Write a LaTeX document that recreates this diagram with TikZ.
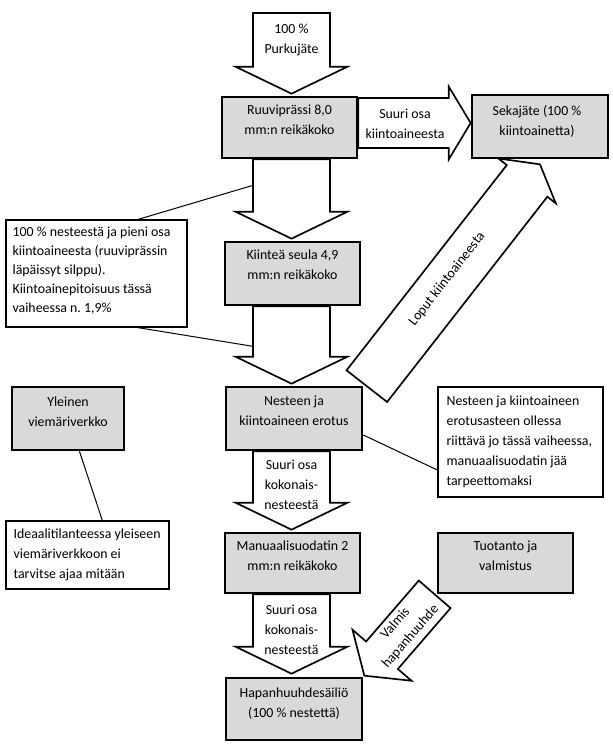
\documentclass[tikz,border=0pt]{standalone}
\usepackage{fontspec}
\setmainfont{Carlito}
\usetikzlibrary{calc,backgrounds}
\definecolor{boxgray}{RGB}{217,217,217}
\frenchspacing
\newcommand{\px}[1]{#1*0.75pt}
% #1 base, #2 tip, #3 shaft half width, #4 head half width, #5 head length
\newcommand{\flowarrow}[5]{%
  \coordinate (hb) at ($(#2)!#5!(#1)$);
  \draw[flow] ($(#1)!#3!90:(#2)$) -- ($(hb)!#3!90:(#2)$) -- ($(hb)!#4!90:(#2)$) -- (#2)
    -- ($(hb)!#4!-90:(#2)$) -- ($(hb)!#3!-90:(#2)$) -- ($(#1)!#3!-90:(#2)$) -- cycle;}
\begin{document}
\begin{tikzpicture}[x=0.75pt,y=-0.75pt,
  box/.style={draw, line width=2pt, fill=boxgray, inner sep=0pt},
  note/.style={draw, line width=1pt, fill=white, inner sep=0pt},
  lbl/.style={inner sep=0pt, align=center, font=\fontsize{10.4}{15}\selectfont},
  ltxt/.style={inner sep=0pt, align=left, anchor=north west, font=\fontsize{10.4}{15}\selectfont},
  flow/.style={draw, line width=1.25pt, fill=white, line join=miter},
  lead/.style={line width=0.75pt}]
\useasboundingbox (0,0) rectangle (612,747);
% main boxes
\node[box, minimum width=\px{135}, minimum height=\px{61}] (ruuvi) at (289.5,127.5) {};
\node[box, minimum width=\px{135}, minimum height=\px{63}] (kiintea) at (292.5,273.5) {};
\node[box, minimum width=\px{136}, minimum height=\px{63}] (nesteen) at (294,418.5) {};
\node[box, minimum width=\px{135}, minimum height=\px{60}] (manuaali) at (292.5,563) {};
\node[box, minimum width=\px{136}, minimum height=\px{62}] (hapan) at (294,709) {};
\node[box, minimum width=\px{136}, minimum height=\px{63}] (seka) at (540,126.5) {};
\node[box, minimum width=\px{135}, minimum height=\px{60}] (tuotanto) at (505.5,563) {};
\node[box, minimum width=\px{112}, minimum height=\px{63}] (yleinen) at (68,418.5) {};
% notes
\node[note, minimum width=\px{181}, minimum height=\px{107}] (n1) at (96.5,273.5) {};
\node[note, minimum width=\px{165}, minimum height=\px{110}] (n2) at (520.5,442) {};
\node[note, minimum width=\px{163}, minimum height=\px{68}] (n3) at (87.5,555) {};
% box texts
\node[lbl, anchor=north] (ruuvi-t) at ($(ruuvi.north)+(0,4.5)$) {\strut Ruuviprässi 8,0\\mm:n reikäkoko};
\node[lbl, anchor=north] (kiintea-t) at ($(kiintea.north)+(0,5)$) {\strut Kiinteä seula 4,9\\mm:n reikäkoko};
\node[lbl, anchor=north] (nesteen-t) at ($(nesteen.north)+(0,6)$) {\strut Nesteen ja\\kiintoaineen erotus};
\node[lbl, anchor=north] (manuaali-t) at ($(manuaali.north)+(0,5)$) {\strut Manuaalisuodatin 2\\mm:n reikäkoko};
\node[lbl, anchor=north] (hapan-t) at ($(hapan.north)+(0,6.5)$) {\strut Hapanhuuhdesäiliö\\(100 \% nestettä)};
\node[lbl, anchor=north] (seka-t) at ($(seka.north)+(-3,8)$) {\strut Sekajäte (100 \%\\kiintoainetta)};
\node[lbl, anchor=north] (tuotanto-t) at ($(tuotanto.north)+(0,5)$) {\strut Tuotanto ja\\valmistus};
\node[lbl, anchor=north] (yleinen-t) at ($(yleinen.north)+(0,6.5)$) {\strut Yleinen\\viemäriverkko};
% note texts
\node[ltxt, font=\fontsize{10.4}{14.25}\selectfont] (n1-t) at ($(n1.north west)+(7,4)$) {\strut 100 \% nesteestä ja pieni osa\\kiintoaineesta (ruuviprässin\\läpäissyt silppu).\\Kiintoainepitoisuus tässä\\vaiheessa n. 1,9\%};
\node[ltxt] (n2-t) at ($(n2.north west)+(9,4.5)$) {\strut Nesteen ja kiintoaineen\\erotusasteen ollessa\\riittävä jo tässä vaiheessa,\\manuaalisuodatin jää\\tarpeettomaksi};
\node[ltxt] (n3-t) at ($(n3.north west)+(8,3.5)$) {\strut Ideaalitilanteessa yleiseen\\viemäriverkkoon ei\\tarvitse ajaa mitään};
% arrows
\coordinate (axis) at (291.5,0);
\coordinate (src) at (291.5,13);
\coordinate (t1) at ($(ruuvi.north -| axis)+(0,-2)$);
\coordinate (b2) at (ruuvi.south -| axis);
\coordinate (t2) at ($(kiintea.north -| axis)+(0,-2)$);
\coordinate (b3) at (kiintea.south -| axis);
\coordinate (t3) at ($(nesteen.north -| axis)+(0,-2)$);
\coordinate (b4) at (nesteen.south -| axis);
\coordinate (t4) at ($(manuaali.north -| axis)+(0,-2)$);
\coordinate (b5) at (manuaali.south -| axis);
\coordinate (t5) at ($(hapan.north -| axis)+(0,-3)$);
\coordinate (b6) at ($(ruuvi.east)+(0,-4.5)$);
\coordinate (t6) at ($(seka.west)+(0,-3.5)$);
\coordinate (b7) at ($(nesteen.north east)+(3.5,0.5)$);
\coordinate (t7) at ($(seka.south)+(0,5)$);
\coordinate (b8) at ($(tuotanto.south west)+(-2,0)$);
\coordinate (t8) at ($(hapan.north east)+(1,-1)$);
\begin{scope}[on background layer]
\flowarrow{src}{t1}{28.875pt}{42pt}{20.25pt}
\flowarrow{b2}{t2}{28.875pt}{42pt}{20.25pt}
\flowarrow{b3}{t3}{28.875pt}{42pt}{20.25pt}
\flowarrow{b4}{t4}{28.875pt}{42pt}{20.25pt}
\flowarrow{b5}{t5}{28.875pt}{42pt}{20.25pt}
\flowarrow{b6}{t6}{18.75pt}{27.4pt}{16.5pt}
\flowarrow{b7}{t7}{19.3pt}{27.3pt}{15.75pt}
\flowarrow{b8}{t8}{15.75pt}{29.25pt}{20.25pt}
\end{scope}
% arrow texts
\node[lbl, anchor=north] (a1-t) at ($(src)+(0,6)$) {\strut 100 \%\\Purkujäte};
\node[lbl, anchor=north] (a6-t) at (405,104) {\strut Suuri osa\\kiintoaineesta};
\node[lbl, anchor=north] (a4-t) at ($(b4)+(0,4)$) {\strut Suuri osa\\kokonais-\\nesteestä};
\node[lbl, anchor=north] (a5-t) at ($(b5)+(0,6)$) {\strut Suuri osa\\kokonais-\\nesteestä};
\node[lbl, rotate=52] (a7-t) at (447,279) {Loput kiintoaineesta};
\node[lbl, rotate=49] (a8-t) at (403,630) {Valmis\\hapanhuuhde};
% leader lines
\coordinate (pA) at ($(b2)+(-38.5,26)$);
\coordinate (pB) at ($(b3)+(-38.5,40)$);
\draw[lead] ($(n1.north west)!0.729!(n1.north east)$) -- (pA);
\draw[lead] ($(n1.south west)!0.729!(n1.south east)$) -- (pB);
\draw[lead] ($(nesteen.east)+(0,16.5)$) -- ($(n2.west)+(0,28)$);
\draw[lead] ($(yleinen.south west)!0.6!(yleinen.south east)$) -- ($(n3.north west)!0.59!(n3.north east)$);
\end{tikzpicture}
\end{document}
